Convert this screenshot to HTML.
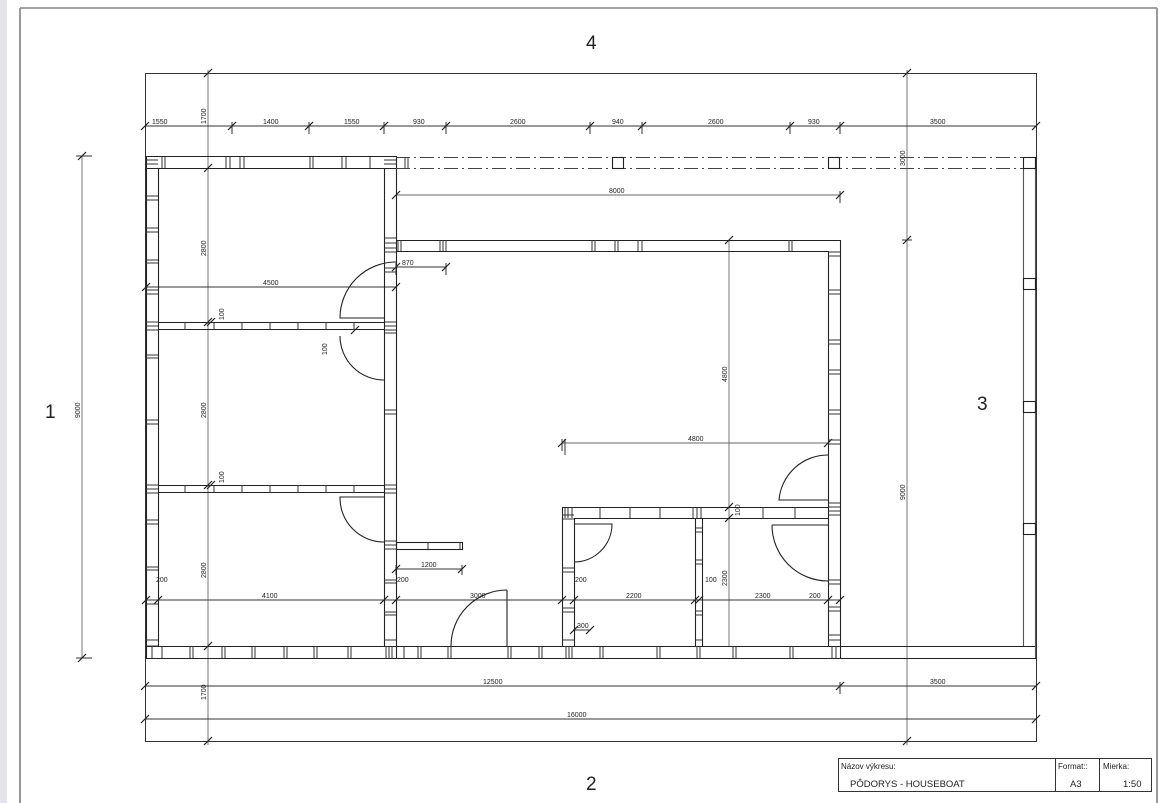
<!DOCTYPE html>
<html><head><meta charset="utf-8"><style>
html,body{margin:0;padding:0;background:#fff;width:1160px;height:803px;overflow:hidden}
svg{display:block}
text{font-family:"Liberation Sans",sans-serif;fill:#222}
.d{font-size:7px}
</style></head><body>
<svg width="1160" height="803" viewBox="0 0 1160 803" xmlns="http://www.w3.org/2000/svg">
<defs><path id="t" d="M-4,4 L4,-4" stroke="#222" stroke-width="1.2"/></defs>
<rect x="0" y="0" width="7" height="803" fill="#e4e4ea"/>
<line x1="20" y1="8" x2="1157" y2="8" stroke="#444" stroke-width="1"/>
<line x1="20" y1="8" x2="20" y2="803" stroke="#999" stroke-width="2"/>
<line x1="1157" y1="8" x2="1157" y2="803" stroke="#999" stroke-width="2"/>

<g stroke="#333" stroke-width="1" fill="none">
<!-- frame -->
<rect x="145.5" y="73.5" width="891" height="668"/>
<!-- long dimension verticals -->
<line x1="208" y1="70" x2="208" y2="745" stroke="#777"/>
<line x1="907" y1="70" x2="907" y2="745" stroke="#777"/>
<line x1="82" y1="156" x2="82" y2="658" stroke="#777"/>
<line x1="76" y1="156" x2="92" y2="156"/><line x1="76" y1="658" x2="92" y2="658"/>
<line x1="729" y1="240" x2="729" y2="646" stroke="#777"/>
<line x1="902" y1="240" x2="912" y2="240"/>
<!-- horizontal dims -->
<line x1="145" y1="126" x2="1036" y2="126"/>
<line x1="396" y1="195" x2="840" y2="195" stroke="#666"/>
<line x1="146" y1="287" x2="396" y2="287"/>
<line x1="396" y1="267" x2="446" y2="267"/>
<line x1="562" y1="443" x2="828" y2="443" stroke="#666"/>
<line x1="146" y1="600" x2="840" y2="600"/>
<line x1="396" y1="569" x2="462" y2="569"/>
<line x1="145" y1="686" x2="1036" y2="686"/>
<line x1="145" y1="719" x2="1036" y2="719"/>
<line x1="573" y1="630" x2="590" y2="630"/>
<!-- dim extension vertical stubs -->
<path d="M232,122V134M309,122V134M384,122V134M446,122V134M590,122V134M642,122V134M790,122V134M840,122V134M840,191V203M396,263V275M446,263V275M562,439V451M462,565V575M396,565V575M840,682V694M565,439V455"/>
</g>

<!-- ticks -->
<g>
<use href="#t" x="145" y="126"/><use href="#t" x="232" y="126"/><use href="#t" x="309" y="126"/><use href="#t" x="384" y="126"/><use href="#t" x="446" y="126"/><use href="#t" x="590" y="126"/><use href="#t" x="642" y="126"/><use href="#t" x="790" y="126"/><use href="#t" x="840" y="126"/><use href="#t" x="1036" y="126"/>
<use href="#t" x="208" y="73"/><use href="#t" x="208" y="168"/><use href="#t" x="208" y="322"/><use href="#t" x="211" y="322"/><use href="#t" x="208" y="485"/><use href="#t" x="211" y="485"/><use href="#t" x="208" y="646"/><use href="#t" x="208" y="741"/>
<use href="#t" x="907" y="73"/><use href="#t" x="907" y="240"/><use href="#t" x="907" y="741"/>
<use href="#t" x="82" y="156"/><use href="#t" x="82" y="658"/>
<use href="#t" x="396" y="195"/><use href="#t" x="840" y="195"/>
<use href="#t" x="146" y="287"/><use href="#t" x="396" y="287"/>
<use href="#t" x="396" y="267"/><use href="#t" x="446" y="267"/>
<use href="#t" x="562" y="443"/><use href="#t" x="828" y="443"/>
<use href="#t" x="146" y="600"/><use href="#t" x="158" y="600"/><use href="#t" x="384" y="600"/><use href="#t" x="396" y="600"/><use href="#t" x="562" y="600"/><use href="#t" x="574" y="600"/><use href="#t" x="695" y="600"/><use href="#t" x="699" y="600"/><use href="#t" x="828" y="600"/><use href="#t" x="840" y="600"/>
<use href="#t" x="396" y="569"/><use href="#t" x="462" y="569"/>
<use href="#t" x="145" y="686"/><use href="#t" x="840" y="686"/><use href="#t" x="1036" y="686"/>
<use href="#t" x="145" y="719"/><use href="#t" x="1036" y="719"/>
<use href="#t" x="729" y="507"/><use href="#t" x="729" y="518"/><use href="#t" x="729" y="240"/>
<use href="#t" x="574" y="630"/><use href="#t" x="590" y="630"/>
<use href="#t" x="355" y="330"/>
</g>

<g stroke="#222" stroke-width="1.1" fill="none">
<!-- left block -->
<line x1="146" y1="156.5" x2="396" y2="156.5"/><line x1="146" y1="168.5" x2="396" y2="168.5"/>
<line x1="146.5" y1="156" x2="146.5" y2="658"/><line x1="158.5" y1="168" x2="158.5" y2="646"/>
<line x1="384.5" y1="168" x2="384.5" y2="646"/><line x1="396.5" y1="156" x2="396.5" y2="658"/>
<!-- bottom wall -->
<line x1="146" y1="646.5" x2="1036" y2="646.5"/><line x1="146" y1="658.5" x2="1036" y2="658.5"/>
<!-- interior horizontal walls left -->
<line x1="158" y1="322.5" x2="384" y2="322.5"/><line x1="158" y1="329.5" x2="384" y2="329.5"/>
<line x1="158" y1="485.5" x2="384" y2="485.5"/><line x1="158" y1="492.5" x2="384" y2="492.5"/>
<!-- main hall -->
<line x1="396" y1="240.5" x2="840" y2="240.5"/><line x1="396" y1="251.5" x2="828" y2="251.5"/>
<line x1="828.5" y1="251" x2="828.5" y2="646"/><line x1="840.5" y1="240" x2="840.5" y2="658"/>
<!-- lower block -->
<line x1="562" y1="507.5" x2="828" y2="507.5"/><line x1="574" y1="518.5" x2="828" y2="518.5"/>
<line x1="562.5" y1="507" x2="562.5" y2="646"/><line x1="574.5" y1="518" x2="574.5" y2="646"/>
<line x1="695.5" y1="518" x2="695.5" y2="646"/><line x1="702.5" y1="518" x2="702.5" y2="646"/>
<!-- small partition -->
<rect x="396.5" y="542.5" width="66" height="7"/>
<!-- terrace -->
<line x1="1023.5" y1="168" x2="1023.5" y2="646" stroke="#555"/><line x1="1035.5" y1="157" x2="1035.5" y2="658" stroke="#555"/>
<line x1="396" y1="157.5" x2="1036" y2="157.5" stroke-dasharray="14,4,2,4" stroke="#444"/>
<line x1="396" y1="168.5" x2="1036" y2="168.5" stroke-dasharray="14,4,2,4" stroke="#444"/>
<rect x="612.5" y="157.5" width="11" height="11"/><rect x="828.5" y="157.5" width="11" height="11"/><rect x="1023.5" y="157.5" width="12" height="11"/>
<rect x="1023.5" y="278.5" width="12" height="11"/><rect x="1023.5" y="401.5" width="12" height="11"/><rect x="1023.5" y="523.5" width="12" height="11"/>

<!-- doors -->
<path d="M396,262 A56,56 0 0 0 340,318 H384"/>
<path d="M384,380 A44,44 0 0 1 340,336"/>
<path d="M384,542 A44,44 0 0 1 340,497 H384"/>
<path d="M507,590 V646 M507,590 A56,56 0 0 0 451,646"/>
<path d="M828,455 A49,49 0 0 0 779,500 H828"/>
<path d="M772,525 H828 M772,525 A56,56 0 0 0 828,581"/>
<path d="M574,524 H612 A38,38 0 0 1 574,562"/>
</g>

<!-- wall hatches -->
<g stroke="#333" stroke-width="1" fill="none">
<path d="M146,160H158M146,164H158M146,196H158M146,200H158M146,228H158M146,232H158M146,260H158M146,263H158M146,290H158M146,294H158M146,322H158M146,326H158M146,330H158M146,355H158M146,358H158M146,420H158M146,424H158M146,485H158M146,489H158M146,493H158M146,520H158M146,524H158M146,567H158M146,570H158M146,600H158M146,604H158M146,640H158M146,646H158"/>
<path d="M384,160H396M384,164H396M384,238H396M384,243H396M384,248H396M384,252H396M384,268H396M384,272H396M384,322H396M384,326H396M384,330H396M384,333H396M384,410H396M384,414H396M384,485H396M384,489H396M384,493H396M384,541H396M384,545H396M384,549H396M384,580H396M384,583H396M384,612H396M384,615H396M384,640H396"/>
<path d="M828,252H840M828,256H840M828,290H840M828,294H840M828,340H840M828,344H840M828,370H840M828,374H840M828,410H840M828,414H840M828,440H840M828,444H840M828,503H840M828,507H840M828,511H840M828,515H840M828,580H840M828,584H840M828,607H840M828,611H840M828,635H840M828,640H840"/>
<path d="M562,515H574M562,519H574M562,568H574M562,572H574M562,608H574M562,612H574M562,640H574"/>
<path d="M695,528H702M695,532H702M695,560H702M695,564H702M695,611H702M695,615H702M695,640H702"/>
<path d="M162,157V168M165,157V168M226,157V168M230,157V168M240,157V168M244,157V168M310,157V168M313,157V168M342,157V168M346,157V168M370,157V168M405,157V168M408,157V168"/>
<path d="M185,322V330M214,322V330M242,322V330M270,322V330M298,322V330M326,322V330M354,322V330"/>
<path d="M185,485V493M214,485V493M242,485V493M270,485V493M298,485V493M326,485V493M354,485V493"/>
<path d="M428,542V549M460,542V549"/>
<path d="M398,240V251M401,240V251M440,240V251M443,240V251M446,240V251M592,240V251M595,240V251M615,240V251M618,240V251M638,240V251M642,240V251M789,240V251M792,240V251"/>
<path d="M565,507V518M568,507V518M572,507V518M600,507V518M630,507V518M660,507V518M693,507V518M697,507V518M701,507V518M763,507V518M795,507V518"/>
<path d="M152,646V658M162,646V658M190,646V658M193,646V658M222,646V658M225,646V658M252,646V658M255,646V658M284,646V658M287,646V658M314,646V658M317,646V658M348,646V658M351,646V658M386,646V658M389,646V658M392,646V658M404,646V658M418,646V658M421,646V658M448,646V658M451,646V658M508,646V658M511,646V658M539,646V658M542,646V658M566,646V658M569,646V658M572,646V658M600,646V658M603,646V658M657,646V658M660,646V658M697,646V658M700,646V658M733,646V658M736,646V658M790,646V658M793,646V658M832,646V658M836,646V658"/>
</g>

<!-- dim labels -->
<g class="d">
<text x="152" y="124" class="d">1550</text>
<text x="263" y="124" class="d">1400</text>
<text x="344" y="124" class="d">1550</text>
<text x="413" y="124" class="d">930</text>
<text x="510" y="124" class="d">2600</text>
<text x="612" y="124" class="d">940</text>
<text x="708" y="124" class="d">2600</text>
<text x="808" y="124" class="d">930</text>
<text x="930" y="124" class="d">3500</text>
<text x="609" y="193" class="d">8000</text>
<text x="263" y="285" class="d">4500</text>
<text x="402" y="265" class="d">870</text>
<text x="688" y="441" class="d">4800</text>
<text x="262" y="598" class="d">4100</text>
<text x="470" y="598" class="d">3000</text>
<text x="626" y="598" class="d">2200</text>
<text x="755" y="598" class="d">2300</text>
<text x="809" y="598" class="d">200</text>
<text x="156" y="582" class="d">200</text>
<text x="397" y="582" class="d">200</text>
<text x="575" y="582" class="d">200</text>
<text x="705" y="582" class="d">100</text>
<text x="577" y="628" class="d">300</text>
<text x="421" y="567" class="d">1200</text>
<text x="483" y="684" class="d">12500</text>
<text x="930" y="684" class="d">3500</text>
<text x="567" y="717" class="d">16000</text>
<text transform="translate(206,124) rotate(-90)" class="d">1700</text>
<text transform="translate(206,700) rotate(-90)" class="d">1700</text>
<text transform="translate(206,256) rotate(-90)" class="d">2800</text>
<text transform="translate(206,418) rotate(-90)" class="d">2800</text>
<text transform="translate(206,578) rotate(-90)" class="d">2800</text>
<text transform="translate(224,320) rotate(-90)" class="d">100</text>
<text transform="translate(224,483) rotate(-90)" class="d">100</text>
<text transform="translate(327,355) rotate(-90)" class="d">100</text>
<text transform="translate(740,516) rotate(-90)" class="d">100</text>
<text transform="translate(727,382) rotate(-90)" class="d">4800</text>
<text transform="translate(727,586) rotate(-90)" class="d">2300</text>
<text transform="translate(80,418) rotate(-90)" class="d">9000</text>
<text transform="translate(905,500) rotate(-90)" class="d">9000</text>
<text transform="translate(905,166) rotate(-90)" class="d">3000</text>
</g>

<!-- big numbers -->
<g style="font-size:19px">
<text x="586" y="49">4</text>
<text x="45" y="418">1</text>
<text x="977" y="410">3</text>
<text x="586" y="790">2</text>
</g>

<!-- title block -->
<g stroke="#333" stroke-width="1" fill="none">
<rect x="838.5" y="758.5" width="313" height="33"/>
<line x1="1055.5" y1="758" x2="1055.5" y2="792"/>
<line x1="1099.5" y1="758" x2="1099.5" y2="792"/>
</g>
<g style="font-size:8px">
<text x="841" y="769">Názov výkresu:</text>
<text x="1058" y="769">Format::</text>
<text x="1103" y="769">Mierka:</text>
</g>
<g style="font-size:9.5px">
<text x="850" y="787">PÔDORYS - HOUSEBOAT</text>
<text x="1070" y="787">A3</text>
<text x="1123" y="787">1:50</text>
</g>
</svg>
</body></html>
